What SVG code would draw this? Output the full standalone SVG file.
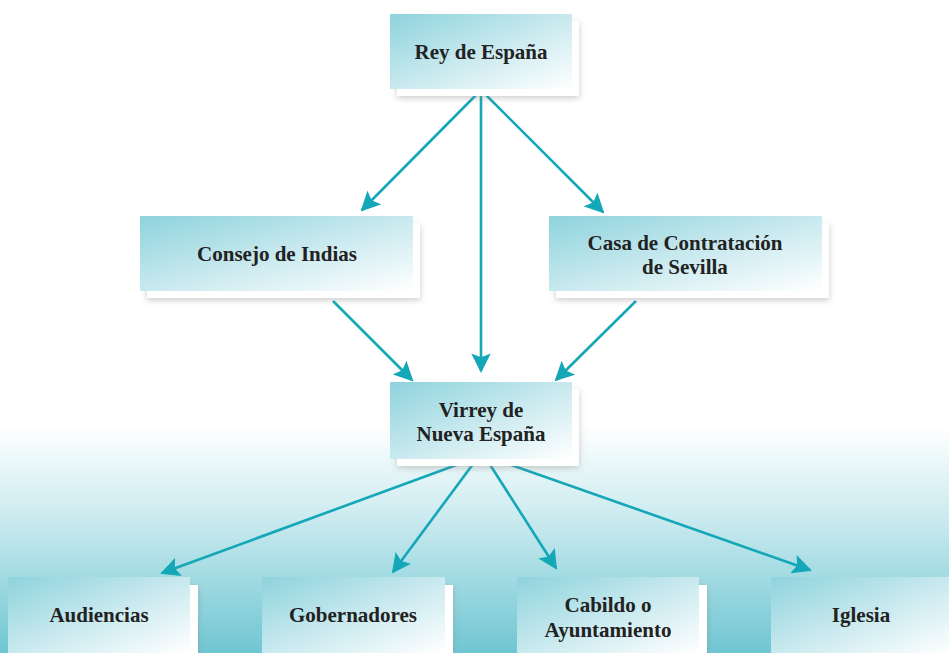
<svg xmlns="http://www.w3.org/2000/svg" width="949" height="653" viewBox="0 0 949 653">
<defs>
<linearGradient id="bg" x1="0" y1="425" x2="0" y2="653" gradientUnits="userSpaceOnUse">
<stop offset="0" stop-color="#ffffff"/>
<stop offset="0.35" stop-color="#d3eef2"/>
<stop offset="1" stop-color="#6fc6d2"/>
</linearGradient>
<linearGradient id="box" x1="0" y1="0" x2="1" y2="1">
<stop offset="0" stop-color="#8ed3dd"/>
<stop offset="0.55" stop-color="#cdebf0"/>
<stop offset="1" stop-color="#ffffff"/>
</linearGradient>
<filter id="sh" x="-10%" y="-10%" width="130%" height="140%">
<feGaussianBlur in="SourceAlpha" stdDeviation="3"/>
<feOffset dx="0" dy="2" result="b"/>
<feFlood flood-color="#888" flood-opacity="0.45"/>
<feComposite in2="b" operator="in" result="s"/>
<feMerge><feMergeNode in="s"/><feMergeNode in="SourceGraphic"/></feMerge>
</filter>
<marker id="ah" viewBox="0 0 10 10" refX="9" refY="5" markerWidth="7.5" markerHeight="7.5" markerUnits="strokeWidth" orient="auto">
<path d="M0,0 L10,5 L0,10 L2,5 Z" fill="#14a7b8"/>
</marker>
<style>
.b{fill:url(#box)}
.s{fill:#ffffff;filter:url(#sh)}
.t{font-family:"Liberation Serif","DejaVu Serif","Times New Roman",serif;font-weight:bold;font-size:21px;fill:#222;text-anchor:middle}
.c{stroke:#14a7b8;stroke-width:2.6;fill:none;marker-end:url(#ah)}
</style>
</defs>
<rect x="0" y="0" width="949" height="653" fill="url(#bg)"/>
<g id="connectors">
<line class="c" x1="481" y1="90" x2="362" y2="210"/>
<line class="c" x1="481" y1="90" x2="481" y2="371"/>
<line class="c" x1="481" y1="90" x2="603" y2="212"/>
<line class="c" x1="333" y1="301" x2="412" y2="380"/>
<line class="c" x1="636" y1="301" x2="556" y2="380"/>
<line class="c" x1="470" y1="460" x2="162" y2="573"/>
<line class="c" x1="476" y1="460" x2="393" y2="572"/>
<line class="c" x1="487" y1="460" x2="556" y2="568"/>
<line class="c" x1="497" y1="460" x2="810" y2="570"/>
</g>
<g id="rey">
<rect class="s" x="397" y="21" width="182" height="75"/>
<rect class="b" x="390" y="14" width="182" height="75"/>
<text class="t" x="481" y="59">Rey de España</text>
</g>
<g id="consejo">
<rect class="s" x="147" y="223" width="273" height="75"/>
<rect class="b" x="140" y="216" width="273" height="75"/>
<text class="t" x="277" y="261">Consejo de Indias</text>
</g>
<g id="casa">
<rect class="s" x="556" y="223" width="273" height="75"/>
<rect class="b" x="549" y="216" width="273" height="75"/>
<text class="t" x="685" y="250">Casa de Contratación</text>
<text class="t" x="685" y="274">de Sevilla</text>
</g>
<g id="virrey">
<rect class="s" x="397" y="389" width="182" height="77"/>
<rect class="b" x="390" y="382" width="182" height="77"/>
<text class="t" x="481" y="417">Virrey de</text>
<text class="t" x="481" y="441">Nueva España</text>
</g>
<g id="audiencias">
<rect class="s" x="16" y="585" width="182" height="76"/>
<rect class="b" x="8" y="577" width="182" height="76"/>
<text class="t" x="99" y="622">Audiencias</text>
</g>
<g id="gobernadores">
<rect class="s" x="270" y="585" width="183" height="76"/>
<rect class="b" x="262" y="577" width="183" height="76"/>
<text class="t" x="353" y="622">Gobernadores</text>
</g>
<g id="cabildo">
<rect class="s" x="525" y="585" width="182" height="76"/>
<rect class="b" x="517" y="577" width="182" height="76"/>
<text class="t" x="608" y="612">Cabildo o</text>
<text class="t" x="608" y="637">Ayuntamiento</text>
</g>
<g id="iglesia">
<rect class="s" x="779" y="585" width="182" height="76"/>
<rect class="b" x="771" y="577" width="182" height="76"/>
<text class="t" x="861" y="622">Iglesia</text>
</g>
</svg>
